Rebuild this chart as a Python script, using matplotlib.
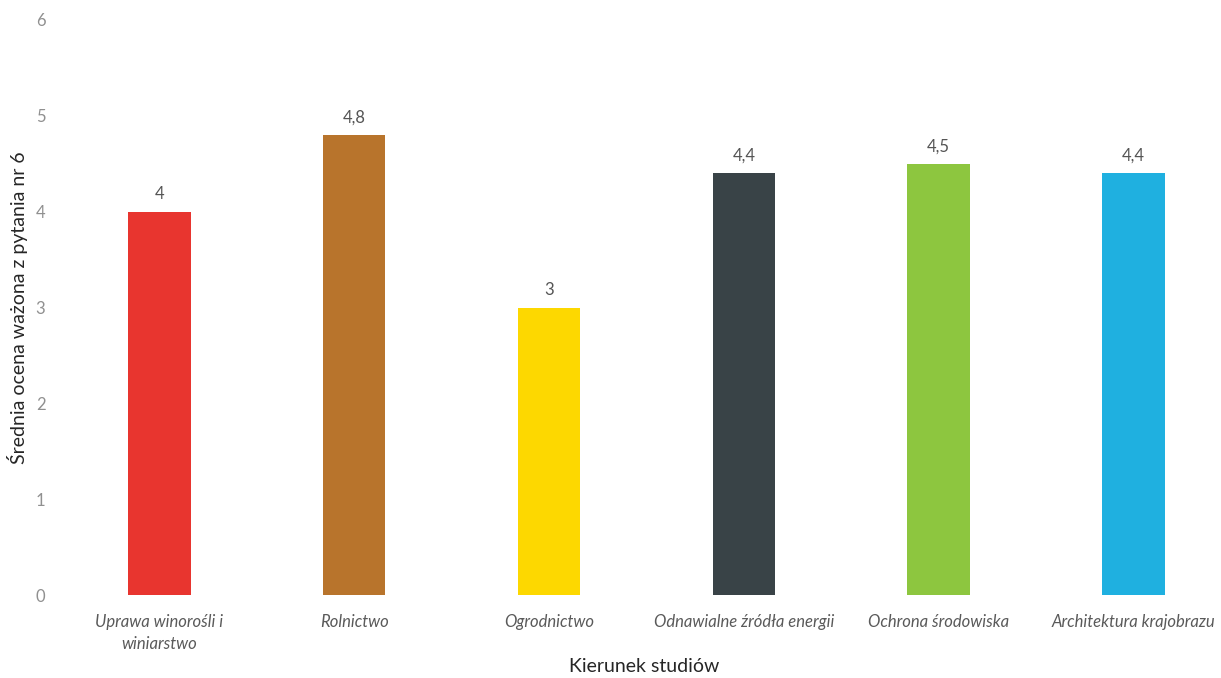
import matplotlib.pyplot as plt

categories = ['Uprawa winorośli i\nwiniarstwo', 'Rolnictwo', 'Ogrodnictwo',
              'Odnawialne źródła energii', 'Ochrona środowiska', 'Architektura krajobrazu']
values = [4.0, 4.8, 3.0, 4.4, 4.5, 4.4]
value_labels = ['4', '4,8', '3', '4,4', '4,5', '4,4']
colors = ['#e8352f', '#b8742c', '#fdd800', '#394347', '#8dc63f', '#1fb0e0']

plt.rcParams['font.family'] = ['Lato', 'DejaVu Sans']

fig = plt.figure(figsize=(12.21, 6.78), dpi=100)
ax = fig.add_axes([62 / 1221, 83 / 678, (1221 - 62) / 1221, 575 / 678])

x = list(range(len(categories)))
ax.bar(x, values, width=0.32, color=colors)

# value labels above the bars
for xi, v, lab in zip(x, values, value_labels):
    ax.text(xi, v + 0.1, lab, ha='center', va='bottom', fontsize=12,
            color='#555555')

ax.set_ylim(0, 6)
ax.set_xlim(-0.5, -0.5 + (1221 - 62) / 194.8)
ax.set_yticks(range(7))
ax.set_yticklabels([str(i) for i in range(7)], fontsize=12, color='#909090')
ax.set_xticks(x)
ax.set_xticklabels(categories, fontsize=12, style='italic', color='#5a5a5a',
                   linespacing=1.4)
ax.tick_params(length=0)
ax.tick_params(axis='y', pad=12)
ax.tick_params(axis='x', pad=14)

for s in ax.spines.values():
    s.set_visible(False)

ax.set_ylabel('Średnia ocena ważona z pytania nr 6', fontsize=14, color='#262626')
ax.yaxis.set_label_coords(-0.029, 0.5)
ax.set_xlabel('Kierunek studiów', fontsize=14, color='#262626')
ax.xaxis.set_label_coords(0.502, -0.11)

fig.savefig('out.png', dpi=100)
